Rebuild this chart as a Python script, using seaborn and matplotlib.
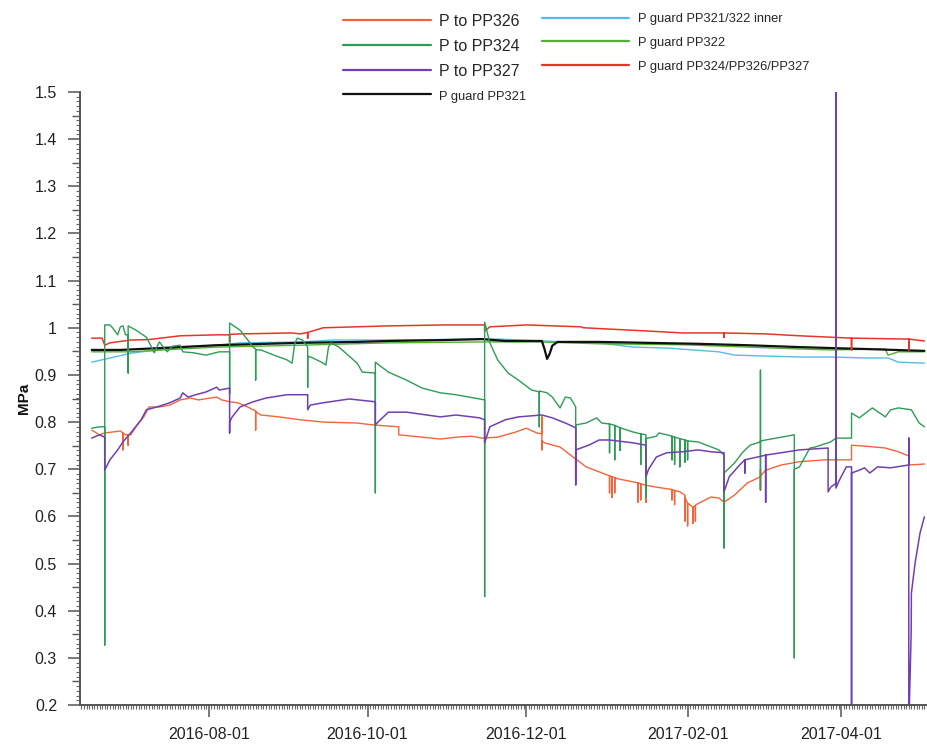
import matplotlib
matplotlib.use("Agg")
import matplotlib.pyplot as plt
import matplotlib.dates as mdates
from matplotlib.lines import Line2D
from matplotlib.ticker import MultipleLocator, FuncFormatter
import pandas as pd
import seaborn as sns

# ---- pressure readings (time, MPa); repeated timestamps are instantaneous transients ----
p_to_pp326 = [
    ('2016-06-17', 0.783), ('2016-06-20', 0.773), ('2016-06-22', 0.777), ('2016-06-25', 0.779),
    ('2016-06-28', 0.781), ('2016-06-29', 0.777), ('2016-06-29', 0.741), ('2016-06-29', 0.777),
    ('2016-06-30', 0.773), ('2016-07-01', 0.773), ('2016-07-01', 0.751), ('2016-07-01', 0.773),
    ('2016-07-02', 0.773), ('2016-07-04', 0.790), ('2016-07-07', 0.811), ('2016-07-09', 0.832),
    ('2016-07-13', 0.832), ('2016-07-17', 0.836), ('2016-07-21', 0.847), ('2016-07-25', 0.851),
    ('2016-07-28', 0.847), ('2016-08-04', 0.853), ('2016-08-06', 0.847), ('2016-08-09', 0.843),
    ('2016-08-12', 0.841), ('2016-08-16', 0.832), ('2016-08-18', 0.826), ('2016-08-19', 0.824),
    ('2016-08-19', 0.783), ('2016-08-19', 0.822), ('2016-08-21', 0.815), ('2016-08-28', 0.811),
    ('2016-09-05', 0.805), ('2016-09-14', 0.800), ('2016-09-27', 0.798), ('2016-10-03', 0.794),
    ('2016-10-13', 0.790), ('2016-10-13', 0.773), ('2016-10-22', 0.768), ('2016-10-29', 0.764),
    ('2016-11-04', 0.768), ('2016-11-10', 0.770), ('2016-11-14', 0.766), ('2016-11-20', 0.768),
    ('2016-11-27', 0.779), ('2016-12-01', 0.787), ('2016-12-05', 0.777), ('2016-12-07', 0.775),
    ('2016-12-07', 0.811), ('2016-12-07', 0.741), ('2016-12-07', 0.760), ('2016-12-08', 0.756),
    ('2016-12-14', 0.747), ('2016-12-18', 0.730), ('2016-12-24', 0.705), ('2017-01-01', 0.688),
    ('2017-01-02', 0.686), ('2017-01-02', 0.650), ('2017-01-02', 0.686), ('2017-01-03', 0.684),
    ('2017-01-03', 0.640), ('2017-01-03', 0.684), ('2017-01-04', 0.682), ('2017-01-04', 0.650),
    ('2017-01-04', 0.682), ('2017-01-05', 0.680), ('2017-01-13', 0.671), ('2017-01-13', 0.630),
    ('2017-01-13', 0.671), ('2017-01-14', 0.669), ('2017-01-14', 0.635), ('2017-01-14', 0.669),
    ('2017-01-16', 0.666), ('2017-01-16', 0.630), ('2017-01-16', 0.666), ('2017-01-20', 0.662),
    ('2017-01-26', 0.657), ('2017-01-26', 0.635), ('2017-01-26', 0.657), ('2017-01-27', 0.655),
    ('2017-01-27', 0.625), ('2017-01-27', 0.655), ('2017-01-29', 0.652), ('2017-01-31', 0.645),
    ('2017-01-31', 0.590), ('2017-01-31', 0.640), ('2017-02-01', 0.628), ('2017-02-01', 0.580),
    ('2017-02-01', 0.628), ('2017-02-03', 0.620), ('2017-02-03', 0.585), ('2017-02-03', 0.620),
    ('2017-02-04', 0.622), ('2017-02-04', 0.590), ('2017-02-04', 0.624), ('2017-02-06', 0.630),
    ('2017-02-10', 0.641), ('2017-02-13', 0.639), ('2017-02-15', 0.630), ('2017-02-19', 0.645),
    ('2017-02-24', 0.671), ('2017-03-01', 0.684), ('2017-03-01', 0.700), ('2017-03-01', 0.656),
    ('2017-03-01', 0.686), ('2017-03-03', 0.698), ('2017-03-09', 0.709), ('2017-03-16', 0.716),
    ('2017-03-26', 0.720), ('2017-03-30', 0.720), ('2017-03-30', 1.017), ('2017-03-30', 0.720),
    ('2017-04-05', 0.720), ('2017-04-05', 0.751), ('2017-04-10', 0.749), ('2017-04-18', 0.745),
    ('2017-04-23', 0.737), ('2017-04-27', 0.728), ('2017-04-27', 0.709), ('2017-05-03', 0.711),
]

p_to_pp324 = [
    ('2016-06-17', 0.787), ('2016-06-20', 0.790), ('2016-06-22', 0.790), ('2016-06-22', 0.327),
    ('2016-06-22', 1.006), ('2016-06-24', 1.006), ('2016-06-25', 1.000), ('2016-06-27', 0.985),
    ('2016-06-28', 1.002), ('2016-06-29', 1.004), ('2016-06-30', 0.985), ('2016-07-01', 0.985),
    ('2016-07-01', 0.904), ('2016-07-01', 1.004), ('2016-07-04', 0.995), ('2016-07-08', 0.980),
    ('2016-07-10', 0.959), ('2016-07-11', 0.947), ('2016-07-13', 0.970), ('2016-07-16', 0.949),
    ('2016-07-18', 0.961), ('2016-07-21', 0.963), ('2016-07-22', 0.949), ('2016-07-26', 0.947),
    ('2016-07-31', 0.942), ('2016-08-05', 0.949), ('2016-08-09', 0.949), ('2016-08-09', 0.860),
    ('2016-08-09', 1.010), ('2016-08-13', 0.995), ('2016-08-16', 0.974), ('2016-08-18', 0.959),
    ('2016-08-19', 0.955), ('2016-08-19', 0.889), ('2016-08-19', 0.953), ('2016-08-21', 0.953),
    ('2016-08-26', 0.942), ('2016-08-31', 0.932), ('2016-09-02', 0.925), ('2016-09-03', 0.966),
    ('2016-09-04', 0.978), ('2016-09-06', 0.974), ('2016-09-08', 0.959), ('2016-09-08', 0.874),
    ('2016-09-08', 0.940), ('2016-09-10', 0.936), ('2016-09-14', 0.925), ('2016-09-15', 0.921),
    ('2016-09-16', 0.959), ('2016-09-17', 0.968), ('2016-09-20', 0.959), ('2016-09-27', 0.925),
    ('2016-09-29', 0.906), ('2016-10-04', 0.904), ('2016-10-04', 0.650), ('2016-10-04', 0.927),
    ('2016-10-09', 0.906), ('2016-10-16', 0.889), ('2016-10-22', 0.872), ('2016-10-29', 0.862),
    ('2016-11-04', 0.858), ('2016-11-13', 0.849), ('2016-11-15', 0.847), ('2016-11-15', 0.430),
    ('2016-11-15', 1.012), ('2016-11-17', 0.968), ('2016-11-20', 0.932), ('2016-11-24', 0.904),
    ('2016-11-28', 0.889), ('2016-12-03', 0.868), ('2016-12-06', 0.864), ('2016-12-06', 0.790),
    ('2016-12-06', 0.866), ('2016-12-09', 0.862), ('2016-12-11', 0.853), ('2016-12-14', 0.830),
    ('2016-12-16', 0.853), ('2016-12-18', 0.851), ('2016-12-20', 0.832), ('2016-12-20', 0.713),
    ('2016-12-20', 0.794), ('2016-12-24', 0.798), ('2016-12-28', 0.809), ('2016-12-30', 0.798),
    ('2017-01-02', 0.796), ('2017-01-02', 0.735), ('2017-01-02', 0.796), ('2017-01-04', 0.793),
    ('2017-01-04', 0.720), ('2017-01-04', 0.793), ('2017-01-06', 0.788), ('2017-01-06', 0.740),
    ('2017-01-06', 0.788), ('2017-01-11', 0.779), ('2017-01-14', 0.775), ('2017-01-14', 0.710),
    ('2017-01-14', 0.775), ('2017-01-16', 0.773), ('2017-01-16', 0.641), ('2017-01-16', 0.765),
    ('2017-01-20', 0.770), ('2017-01-21', 0.777), ('2017-01-24', 0.773), ('2017-01-26', 0.770),
    ('2017-01-26', 0.720), ('2017-01-26', 0.770), ('2017-01-27', 0.768), ('2017-01-27', 0.710),
    ('2017-01-27', 0.768), ('2017-01-29', 0.765), ('2017-01-29', 0.705), ('2017-01-29', 0.765),
    ('2017-01-31', 0.762), ('2017-01-31', 0.715), ('2017-01-31', 0.762), ('2017-02-01', 0.760),
    ('2017-02-01', 0.720), ('2017-02-01', 0.760), ('2017-02-05', 0.758), ('2017-02-13', 0.741),
    ('2017-02-15', 0.730), ('2017-02-15', 0.533), ('2017-02-15', 0.692), ('2017-02-19', 0.713),
    ('2017-02-22', 0.735), ('2017-02-25', 0.751), ('2017-03-01', 0.758), ('2017-03-01', 0.910),
    ('2017-03-01', 0.656), ('2017-03-01', 0.760), ('2017-03-09', 0.768), ('2017-03-14', 0.773),
    ('2017-03-14', 0.300), ('2017-03-14', 0.700), ('2017-03-16', 0.705), ('2017-03-20', 0.745),
    ('2017-03-22', 0.747), ('2017-03-28', 0.758), ('2017-03-30', 0.766), ('2017-04-05', 0.766),
    ('2017-04-05', 0.819), ('2017-04-08', 0.809), ('2017-04-13', 0.830), ('2017-04-18', 0.811),
    ('2017-04-20', 0.826), ('2017-04-23', 0.830), ('2017-04-28', 0.826), ('2017-05-01', 0.798),
    ('2017-05-03', 0.790),
]

p_to_pp327 = [
    ('2016-06-17', 0.766), ('2016-06-20', 0.773), ('2016-06-22', 0.768), ('2016-06-22', 0.698),
    ('2016-06-24', 0.720), ('2016-06-27', 0.741), ('2016-06-29', 0.758), ('2016-07-02', 0.777),
    ('2016-07-06', 0.805), ('2016-07-08', 0.826), ('2016-07-12', 0.832), ('2016-07-17', 0.841),
    ('2016-07-21', 0.851), ('2016-07-22', 0.862), ('2016-07-24', 0.853), ('2016-07-27', 0.858),
    ('2016-07-31', 0.864), ('2016-08-04', 0.874), ('2016-08-05', 0.868), ('2016-08-09', 0.872),
    ('2016-08-09', 0.777), ('2016-08-09', 0.800), ('2016-08-10', 0.811), ('2016-08-13', 0.832),
    ('2016-08-18', 0.843), ('2016-08-23', 0.851), ('2016-08-31', 0.858), ('2016-09-08', 0.858),
    ('2016-09-08', 0.826), ('2016-09-09', 0.836), ('2016-09-14', 0.841), ('2016-09-24', 0.849),
    ('2016-10-04', 0.843), ('2016-10-04', 0.794), ('2016-10-05', 0.800), ('2016-10-09', 0.821),
    ('2016-10-16', 0.821), ('2016-10-29', 0.811), ('2016-11-04', 0.815), ('2016-11-13', 0.809),
    ('2016-11-15', 0.805), ('2016-11-15', 0.756), ('2016-11-17', 0.790), ('2016-11-23', 0.805),
    ('2016-11-28', 0.811), ('2016-12-07', 0.815), ('2016-12-11', 0.809), ('2016-12-16', 0.798),
    ('2016-12-20', 0.788), ('2016-12-20', 0.667), ('2016-12-20', 0.741), ('2016-12-25', 0.751),
    ('2016-12-29', 0.762), ('2017-01-02', 0.762), ('2017-01-11', 0.756), ('2017-01-16', 0.751),
    ('2017-01-16', 0.684), ('2017-01-17', 0.700), ('2017-01-20', 0.726), ('2017-01-24', 0.735),
    ('2017-01-30', 0.737), ('2017-02-05', 0.741), ('2017-02-10', 0.737), ('2017-02-15', 0.735),
    ('2017-02-15', 0.652), ('2017-02-17', 0.684), ('2017-02-21', 0.709), ('2017-02-23', 0.720),
    ('2017-02-23', 0.692), ('2017-02-23', 0.720), ('2017-02-28', 0.726), ('2017-03-03', 0.730),
    ('2017-03-03', 0.630), ('2017-03-03', 0.730), ('2017-03-09', 0.735), ('2017-03-16', 0.741),
    ('2017-03-27', 0.745), ('2017-03-27', 0.652), ('2017-03-28', 0.662), ('2017-03-30', 0.670),
    ('2017-03-30', 1.550), ('2017-03-30', 0.660), ('2017-03-31', 0.673), ('2017-04-01', 0.684),
    ('2017-04-03', 0.705), ('2017-04-05', 0.705), ('2017-04-05', 0.150), ('2017-04-05', 0.692),
    ('2017-04-08', 0.698), ('2017-04-10', 0.703), ('2017-04-12', 0.692), ('2017-04-15', 0.705),
    ('2017-04-20', 0.703), ('2017-04-27', 0.709), ('2017-04-27', 0.766), ('2017-04-27', 0.150),
    ('2017-04-27 12:00', 0.260), ('2017-04-27 22:00', 0.353), ('2017-04-28', 0.437),
    ('2017-04-29 10:00', 0.501), ('2017-05-01 08:00', 0.565), ('2017-05-03', 0.599),
]

p_guard_pp321 = [
    ('2016-06-17', 0.953), ('2016-06-28', 0.953), ('2016-07-21', 0.959), ('2016-08-04', 0.963),
    ('2016-09-05', 0.968), ('2016-09-27', 0.970), ('2016-10-09', 0.972), ('2016-10-31', 0.974),
    ('2016-11-14', 0.976), ('2016-11-23', 0.972), ('2016-12-07', 0.972), ('2016-12-08', 0.955),
    ('2016-12-09', 0.934), ('2016-12-10', 0.945), ('2016-12-11', 0.962), ('2016-12-13', 0.970),
    ('2016-12-29', 0.970), ('2017-01-17', 0.968), ('2017-02-05', 0.966), ('2017-02-24', 0.963),
    ('2017-03-16', 0.959), ('2017-03-28', 0.957), ('2017-04-10', 0.955), ('2017-05-03', 0.951),
]

p_guard_inner = [
    ('2016-06-17', 0.927), ('2016-07-02', 0.946), ('2016-07-21', 0.959), ('2016-08-04', 0.963),
    ('2016-08-13', 0.968), ('2016-09-05', 0.970), ('2016-09-18', 0.974), ('2016-10-09', 0.974),
    ('2016-11-14', 0.976), ('2016-11-20', 0.976), ('2016-12-16', 0.970), ('2016-12-29', 0.968),
    ('2017-01-11', 0.959), ('2017-01-24', 0.957), ('2017-02-13', 0.949), ('2017-02-19', 0.942),
    ('2017-03-16', 0.938), ('2017-03-28', 0.938), ('2017-04-10', 0.936), ('2017-04-19', 0.936),
    ('2017-04-23', 0.927), ('2017-05-03', 0.925),
]

p_guard_pp322 = [
    ('2016-06-17', 0.949), ('2016-07-02', 0.949), ('2016-07-21', 0.955), ('2016-08-04', 0.959),
    ('2016-09-05', 0.963), ('2016-10-09', 0.968), ('2016-11-14', 0.970), ('2016-12-06', 0.970),
    ('2016-12-29', 0.966), ('2017-01-30', 0.964), ('2017-02-24', 0.959), ('2017-03-16', 0.955),
    ('2017-03-28', 0.953), ('2017-04-18', 0.955), ('2017-04-19', 0.942), ('2017-04-23', 0.949),
    ('2017-05-03', 0.949),
]

p_guard_pp324_326_327 = [
    ('2016-06-17', 0.978), ('2016-06-21', 0.978), ('2016-06-22', 0.963), ('2016-06-24', 0.968),
    ('2016-07-02', 0.974), ('2016-07-09', 0.975), ('2016-07-21', 0.983), ('2016-08-04', 0.985),
    ('2016-08-09', 0.985), ('2016-08-09', 0.970), ('2016-08-09', 0.986), ('2016-08-13', 0.987),
    ('2016-09-02', 0.989), ('2016-09-05', 0.987), ('2016-09-08', 0.990), ('2016-09-08', 0.978),
    ('2016-09-08', 0.990), ('2016-09-14', 1.000), ('2016-10-09', 1.004), ('2016-10-31', 1.006),
    ('2016-11-15', 1.006), ('2016-11-15', 0.993), ('2016-11-17', 1.002), ('2016-12-01', 1.006),
    ('2016-12-22', 1.002), ('2016-12-23', 1.000), ('2017-01-17', 0.993), ('2017-01-30', 0.989),
    ('2017-02-15', 0.989), ('2017-02-15', 0.980), ('2017-02-15', 0.989), ('2017-03-03', 0.987),
    ('2017-03-16', 0.983), ('2017-03-28', 0.980), ('2017-04-05', 0.978), ('2017-04-05', 0.953),
    ('2017-04-05', 0.978), ('2017-04-27', 0.976), ('2017-04-27', 0.953), ('2017-04-27', 0.976),
    ('2017-05-03', 0.972),
]

# legend columns
labels_left = ['P to PP326', 'P to PP324', 'P to PP327', 'P guard PP321']
labels_right = ['P guard PP321/322 inner', 'P guard PP322', 'P guard PP324/PP326/PP327']

sns.set_style('ticks')
plt.rcParams['font.family'] = ['Liberation Sans', 'DejaVu Sans']

fig = plt.figure(figsize=(9.27, 7.45), dpi=100)
ax = fig.add_axes([80 / 927, 40 / 745, 847 / 927, 613 / 745])

# (label, readings, colour, width); guards first so the supply lines sit on top
series = [
    ('P guard PP321/322 inner', p_guard_inner, '#55bde4', 1.0),
    ('P guard PP322', p_guard_pp322, '#52b035', 1.0),
    ('P guard PP321', p_guard_pp321, '#111111', 1.6),
    ('P guard PP324/PP326/PP327', p_guard_pp324_326_327, '#e8352b', 1.1),
    ('P to PP326', p_to_pp326, '#f2643a', 1.0),
    ('P to PP324', p_to_pp324, '#2e9c55', 1.0),
    ('P to PP327', p_to_pp327, '#7040b2', 1.1),
]

styles = {}
for name, pts, color, lw in series:
    df = pd.DataFrame(pts, columns=['time', 'MPa'])
    df['time'] = pd.to_datetime(df['time'], format='ISO8601')
    sns.lineplot(data=df, x='time', y='MPa', ax=ax, estimator=None, sort=False,
                 color=color, linewidth=lw, legend=False)
    styles[name] = color

ax.set_xlim(pd.Timestamp('2016-06-12 12:00'), pd.Timestamp('2017-05-04'))
ax.set_ylim(0.2, 1.5)

# axes styling
for side in ('top', 'right'):
    ax.spines[side].set_visible(False)
for side in ('left', 'bottom'):
    ax.spines[side].set_color('#555555')
    ax.spines[side].set_linewidth(1.4)

ax.xaxis.set_major_locator(mdates.MonthLocator(bymonth=[2, 4, 6, 8, 10, 12]))
ax.xaxis.set_major_formatter(mdates.DateFormatter('%Y-%m-%d'))
ax.xaxis.set_minor_locator(mdates.DayLocator())
ax.yaxis.set_major_locator(MultipleLocator(0.1))
ax.yaxis.set_minor_locator(MultipleLocator(0.01))
ax.yaxis.set_major_formatter(FuncFormatter(lambda v, _: f'{round(v, 2):g}'))

ax.tick_params(axis='both', which='major', length=8.5, width=1.1, color='#555555',
               labelsize=11.5, labelcolor='#222222')
ax.tick_params(axis='x', which='major', pad=7)
ax.tick_params(axis='y', which='major', pad=8)
ax.tick_params(axis='both', which='minor', length=3, width=0.8, color='#666666')

# half-step ticks on the value axis
half = ax.secondary_yaxis('left')
half.set_yticks([round(0.25 + 0.1 * i, 2) for i in range(13)])
half.tick_params(length=5.5, width=1.0, color='#555555', labelleft=False)
half.spines['left'].set_visible(False)

ax.set_xlabel('')
ax.set_ylabel('MPa', fontsize=11, fontweight='bold', color='#111111')
ax.yaxis.set_label_coords(-0.058, 0.5)

# two-column legend above the plot
def handle(name):
    return Line2D([], [], color=styles[name], linewidth=1.6)

leg1 = fig.legend([handle(n) for n in labels_left], labels_left, loc='upper left',
                  bbox_to_anchor=(343 / 927, 1 - 14 / 745), frameon=False, fontsize=11.5,
                  handlelength=5.5, handletextpad=0.5, labelspacing=0.62,
                  borderpad=0, borderaxespad=0)
leg2 = fig.legend([handle(n) for n in labels_right], labels_right, loc='upper left',
                  bbox_to_anchor=(542 / 927, 1 - 13 / 745), frameon=False, fontsize=9.3,
                  handlelength=6.7, handletextpad=0.75, labelspacing=0.92,
                  borderpad=0, borderaxespad=0)
leg1.get_texts()[3].set_fontsize(9.3)

fig.savefig('out.png', dpi=100)
